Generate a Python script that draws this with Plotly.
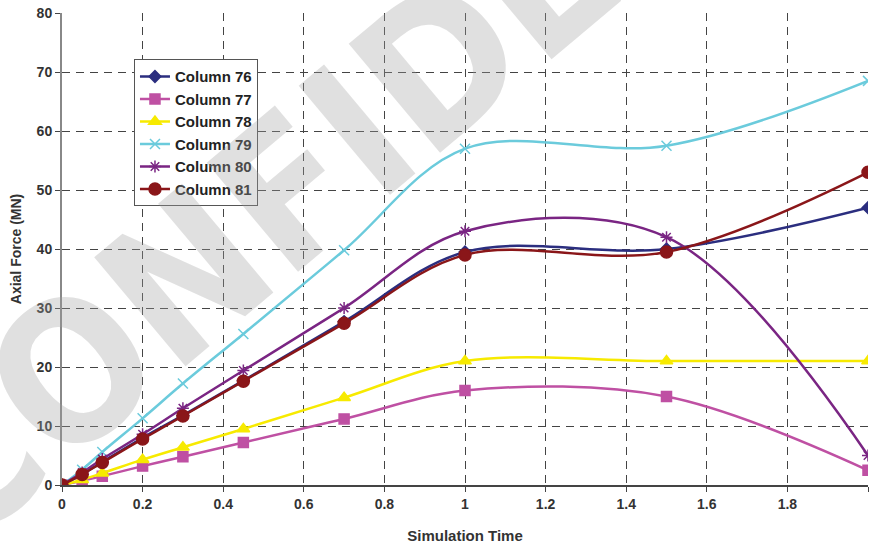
import plotly.graph_objects as go

x_vals = [0, 0.05, 0.1, 0.2, 0.3, 0.45, 0.7, 1.0, 1.5, 2.0]
col76 = [0, 1.8, 3.9, 8.0, 11.8, 17.7, 27.7, 39.5, 40.0, 47.0]
col77 = [0, 0.7, 1.5, 3.2, 4.8, 7.2, 11.2, 16.0, 15.0, 2.5]
col78 = [0, 0.9, 2.0, 4.3, 6.4, 9.5, 14.8, 21.0, 21.0, 21.0]
col79 = [0, 2.6, 5.6, 11.3, 17.2, 25.6, 39.8, 57.0, 57.5, 68.5]
col80 = [0, 2.1, 4.4, 8.6, 13.0, 19.4, 30.0, 43.0, 42.0, 5.0]
col81 = [0, 1.8, 3.8, 7.8, 11.7, 17.6, 27.4, 39.0, 39.5, 53.0]
names = ["Column 76", "Column 77", "Column 78", "Column 79", "Column 80", "Column 81"]
x_ticks = [0, 0.2, 0.4, 0.6, 0.8, 1, 1.2, 1.4, 1.6, 1.8, 2]
x_tick_text = ["0", "0.2", "0.4", "0.6", "0.8", "1", "1.2", "1.4", "1.6", "1.8", "2"]

series = [col76, col77, col78, col79, col80, col81]
colors = ["#2B2E7F", "#BF50A3", "#F7EA00", "#6BCBDC", "#7A2583", "#8A1619"]
symbols = ["diamond", "square", "triangle-up", "x-thin-open", "asterisk-open", "circle"]
msizes = [9, 10, 11, 10, 10, 12]

fig = go.Figure()
for name, ys, c, s, ms in zip(names, series, colors, symbols, msizes):
    fig.add_trace(go.Scatter(
        x=x_vals, y=ys, name=name, mode="lines+markers",
        line=dict(color=c, width=2.5, shape="spline", smoothing=1.0),
        marker=dict(symbol=s, size=ms, color=c, line=dict(color=c, width=1.5)),
    ))

fig.add_annotation(
    xref="paper", yref="paper", x=0.512, y=0.952,
    xanchor="center", yanchor="middle",
    text="CONFIDENTIAL", showarrow=False, textangle=-40,
    font=dict(family="Liberation Sans Narrow, DejaVu Sans Condensed, Liberation Sans",
              size=195, color="rgba(160,160,160,0.32)", weight="bold"),
)

tick_font = dict(family="Liberation Sans", size=14, color="#333333", weight="bold")
fig.update_layout(
    width=870, height=548,
    margin=dict(l=62, r=2, t=13, b=63),
    paper_bgcolor="white", plot_bgcolor="white",
    showlegend=True,
    legend=dict(
        x=0.0893, y=0.902, xanchor="left", yanchor="top",
        bgcolor="white", bordercolor="#555555", borderwidth=1,
        font=dict(family="Liberation Sans", size=15, color="#222222", weight="bold"),
        tracegroupgap=0,
    ),
    xaxis=dict(
        range=[0, 2], tickvals=x_ticks, ticktext=x_tick_text,
        showgrid=True, gridcolor="#444444", gridwidth=1, griddash="8px,6px",
        showline=True, linecolor="#444444", linewidth=1.5,
        ticks="outside", ticklen=5, tickcolor="#444444",
        tickfont=tick_font, zeroline=False,
        title=dict(text="Simulation Time", font=dict(family="Liberation Sans", size=15, color="#333333", weight="bold"), standoff=20),
    ),
    yaxis=dict(
        range=[0, 80], dtick=10,
        showgrid=True, gridcolor="#444444", gridwidth=1, griddash="8px,6px",
        showline=True, linecolor="#888888", linewidth=2,
        ticks="outside", ticklen=5, tickcolor="#444444",
        tickfont=tick_font, zeroline=False,
        title=dict(text="Axial Force (MN)", font=dict(family="Liberation Sans", size=14, color="#333333", weight="bold"), standoff=12),
    ),
)

fig.write_html("out.html")
